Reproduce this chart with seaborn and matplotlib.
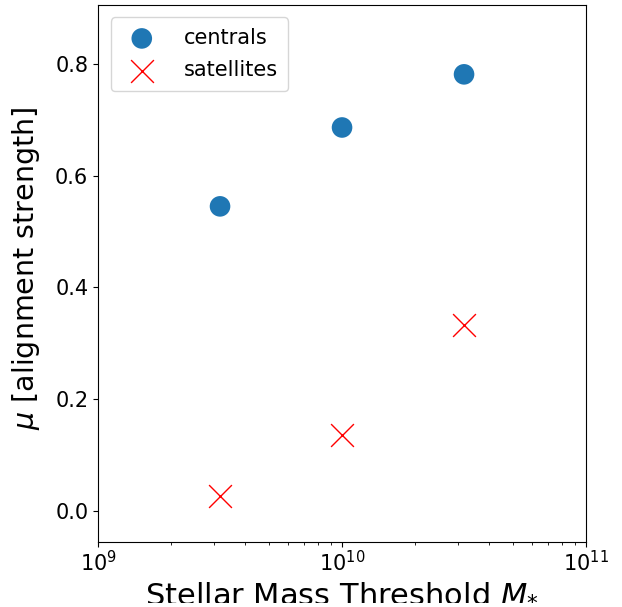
import matplotlib
matplotlib.use("Agg")
import matplotlib.pyplot as plt
import seaborn as sns
import pandas as pd

# stellar mass thresholds and alignment strengths
mass_threshold = [10**9.5, 10**10, 10**10.5]
mu_centrals = [0.545, 0.686, 0.781]
mu_satellites = [0.028, 0.137, 0.333]

df_cen = pd.DataFrame({'mass': mass_threshold, 'mu': mu_centrals})
df_sat = pd.DataFrame({'mass': mass_threshold, 'mu': mu_satellites})

sns.set_style("ticks", rc={
    'text.color': 'black', 'axes.labelcolor': 'black',
    'xtick.color': 'black', 'ytick.color': 'black',
    'axes.edgecolor': 'black',
    'xtick.major.size': 3.5, 'ytick.major.size': 3.5,
    'xtick.minor.size': 2.0, 'ytick.minor.size': 2.0,
})
plt.rcParams['font.family'] = ['DejaVu Sans']
plt.rcParams['mathtext.fontset'] = 'dejavusans'

fig = plt.figure(figsize=(6.22, 6.07), dpi=100)
ax = fig.add_axes([0.1576, 0.1071, 0.7846, 0.8847])

sns.scatterplot(data=df_cen, x='mass', y='mu', ax=ax, marker='o', s=220,
                color='#1f77b4', edgecolor='none', label='centrals')
sns.scatterplot(data=df_sat, x='mass', y='mu', ax=ax, marker='x', s=270,
                color='red', linewidth=1.0, label='satellites')

ax.set_xscale('log')
ax.set_xlim(1e9, 1e11)
ax.set_ylim(-0.055, 0.905)
ax.set_yticks([0.0, 0.2, 0.4, 0.6, 0.8])
ax.tick_params(axis='both', which='major', labelsize=15)
ax.tick_params(axis='x', which='major', pad=2.5)
ax.set_xlabel(r'Stellar Mass Threshold $M_{*}$', fontsize=22)
ax.xaxis.set_label_coords(0.5, -0.066)
ax.set_ylabel(r'$\mu$ [alignment strength]', fontsize=20.5)
ax.yaxis.set_label_coords(-0.114, 0.51)
ax.legend(loc='upper left', fontsize=15, labelspacing=0.6,
          handletextpad=1.0, borderpad=0.5, borderaxespad=0.6)

fig.savefig('out.png', dpi=100)
plt.close(fig)
